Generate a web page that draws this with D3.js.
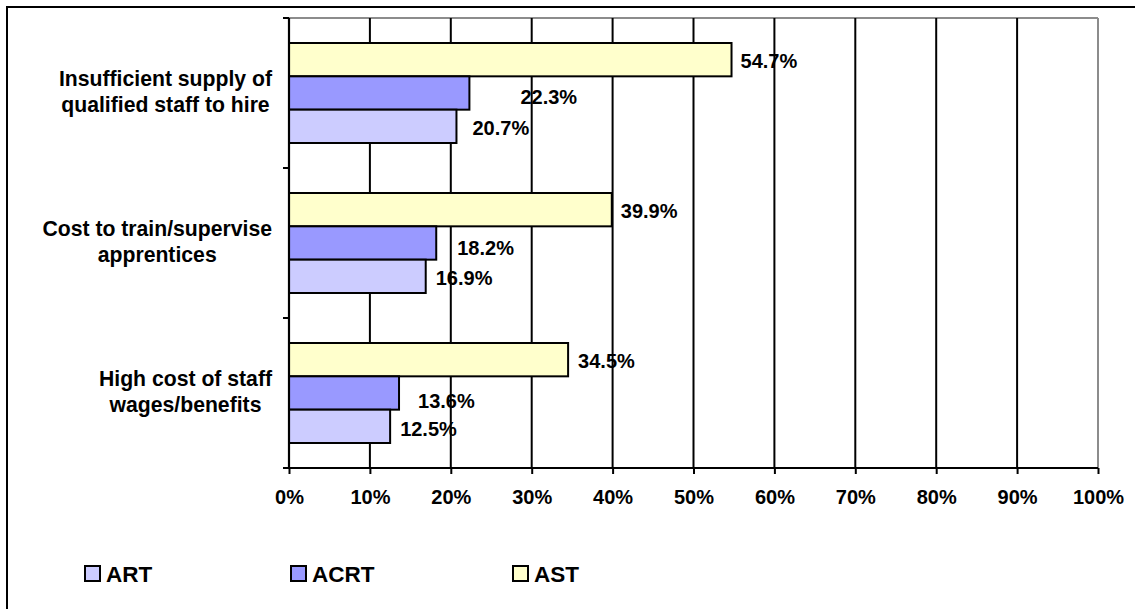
<!DOCTYPE html>
<html>
<head>
<meta charset="utf-8">
<script src="https://cdn.jsdelivr.net/npm/d3@7"></script>
<style>
  html, body { margin: 0; padding: 0; background: #fff; }
  svg { display: block; font-family: "Liberation Sans", Arial, sans-serif; font-weight: bold; }
</style>
</head>
<body>
<svg id="chart" width="1135" height="609"></svg>
<script>
// Barriers to hiring, share of respondents by program
const categories = [
  ["Insufficient supply of", "qualified staff to hire"],
  ["Cost to train/supervise", "apprentices"],
  ["High cost of staff", "wages/benefits"]
];
const seriesNames = ["AST", "ACRT", "ART"];       // top-to-bottom order inside each group
const astValues  = [54.7, 39.9, 34.5];
const acrtValues = [22.3, 18.2, 13.6];
const artValues  = [20.7, 16.9, 12.5];
const xTicks = [0, 10, 20, 30, 40, 50, 60, 70, 80, 90, 100];
const legendNames = ["ART", "ACRT", "AST"];

const colors = { AST: "#FFFFCC", ACRT: "#9999FF", ART: "#CCCCFF" };
const valuesBySeries = { AST: astValues, ACRT: acrtValues, ART: artValues };

// label nudges (dx from bar end, dy from bar centre), per series and category
const labelNudge = {
  AST:  [[9, 1], [9, 1], [10, 1]],
  ACRT: [[51, 4], [21, 5], [19, 8]],
  ART:  [[16, 1], [10, 1], [10, 2]]
};

const svg = d3.select("#chart");
const plot = { left: 289, right: 1098, top: 18, bottom: 468 };

// outer frame (right and bottom edges fall outside the canvas)
svg.append("rect")
  .attr("x", 7).attr("y", 7)
  .attr("width", 1140).attr("height", 620)
  .attr("fill", "none").attr("stroke", "#000").attr("stroke-width", 2);

const x = d3.scaleLinear().domain([0, 100]).range([plot.left, plot.right]);
const y = d3.scaleBand()
  .domain(d3.range(categories.length))
  .range([plot.top, plot.bottom])
  .paddingInner(1 / 3)
  .paddingOuter(1 / 6);
const ySeries = d3.scaleBand().domain(seriesNames).range([0, y.bandwidth()]);

// plot area border: grey top and right edges
svg.append("line")
  .attr("x1", plot.left).attr("x2", plot.right)
  .attr("y1", plot.top).attr("y2", plot.top)
  .attr("stroke", "#8c8c8c").attr("stroke-width", 2);
svg.append("line")
  .attr("x1", plot.right).attr("x2", plot.right)
  .attr("y1", plot.top).attr("y2", plot.bottom)
  .attr("stroke", "#8c8c8c").attr("stroke-width", 2);

// vertical gridlines
svg.append("g")
  .selectAll("line")
  .data(xTicks.filter(t => t > 0 && t < 100))
  .join("line")
  .attr("x1", d => x(d)).attr("x2", d => x(d))
  .attr("y1", plot.top).attr("y2", plot.bottom)
  .attr("stroke", "#000").attr("stroke-width", 2);

// bars
const groups = svg.append("g")
  .selectAll("g")
  .data(categories.map((c, i) => i))
  .join("g")
  .attr("transform", i => `translate(0,${y(i)})`);

groups.selectAll("rect")
  .data(i => seriesNames.map(s => ({ s, i, v: valuesBySeries[s][i] })))
  .join("rect")
  .attr("x", x(0))
  .attr("y", d => ySeries(d.s))
  .attr("width", d => x(d.v) - x(0))
  .attr("height", ySeries.bandwidth())
  .attr("fill", d => colors[d.s])
  .attr("stroke", "#000")
  .attr("stroke-width", 2);

// value labels
groups.selectAll("text")
  .data(i => seriesNames.map(s => ({ s, i, v: valuesBySeries[s][i] })))
  .join("text")
  .attr("x", d => x(d.v) + labelNudge[d.s][d.i][0])
  .attr("y", d => ySeries(d.s) + ySeries.bandwidth() / 2 + labelNudge[d.s][d.i][1])
  .attr("dy", "0.36em")
  .attr("font-size", 20)
  .attr("fill", "#000")
  .text(d => d.v.toFixed(1) + "%");

// x axis
const xAxis = d3.axisBottom(x)
  .tickValues(xTicks)
  .tickFormat(d => d + "%")
  .tickSize(6)
  .tickPadding(16);
const gx = svg.append("g")
  .attr("transform", `translate(0,${plot.bottom})`)
  .call(xAxis);
gx.select(".domain").remove();
gx.selectAll(".tick line").attr("stroke", "#000").attr("stroke-width", 2);
gx.selectAll(".tick text")
  .attr("font-size", 20).attr("font-family", "Liberation Sans, Arial, sans-serif")
  .attr("font-weight", "bold").attr("fill", "#000");
svg.append("line")
  .attr("x1", plot.left - 6).attr("x2", plot.right)
  .attr("y1", plot.bottom).attr("y2", plot.bottom)
  .attr("stroke", "#000").attr("stroke-width", 2.2);

// y axis line with ticks at band boundaries
svg.append("line")
  .attr("x1", plot.left).attr("x2", plot.left)
  .attr("y1", plot.top).attr("y2", plot.bottom)
  .attr("stroke", "#000").attr("stroke-width", 2.2);
const boundaries = d3.range(categories.length + 1).map(i => plot.top + i * y.step());
svg.append("g")
  .selectAll("line")
  .data(boundaries)
  .join("line")
  .attr("x1", plot.left - 6).attr("x2", plot.left)
  .attr("y1", d => d).attr("y2", d => d)
  .attr("stroke", "#000").attr("stroke-width", 2);

// category labels: each wrapped block sits against the axis, lines centred within it
const labelRight = 272;
const catText = svg.append("g")
  .selectAll("text")
  .data(categories)
  .join("text")
  .attr("text-anchor", "middle")
  .attr("font-size", 21.2)
  .attr("fill", "#000");
catText.selectAll("tspan")
  .data(d => d)
  .join("tspan")
  .attr("x", 0)
  .attr("y", (d, j, nodes) => (j - (nodes.length - 1) / 2) * 26.5)
  .attr("dy", "0.33em")
  .text(d => d);
catText.attr("transform", function (d, i) {
  const widths = Array.from(this.querySelectorAll("tspan"), t => t.getComputedTextLength());
  const w = d3.max(widths);
  return `translate(${labelRight - w / 2},${y(i) + y.bandwidth() / 2 - 1})`;
});

// legend
const legendX = [85, 291, 513];
const legend = svg.append("g")
  .selectAll("g")
  .data(legendNames)
  .join("g")
  .attr("transform", (d, i) => `translate(${legendX[i]},566)`);
legend.append("rect")
  .attr("x", 0).attr("y", 0)
  .attr("width", 15).attr("height", 15)
  .attr("fill", d => colors[d])
  .attr("stroke", "#000").attr("stroke-width", 2);
legend.append("text")
  .attr("x", 21).attr("y", 15.6)
  .attr("font-size", 22.5)
  .attr("fill", "#000")
  .text(d => d);
</script>
</body>
</html>
